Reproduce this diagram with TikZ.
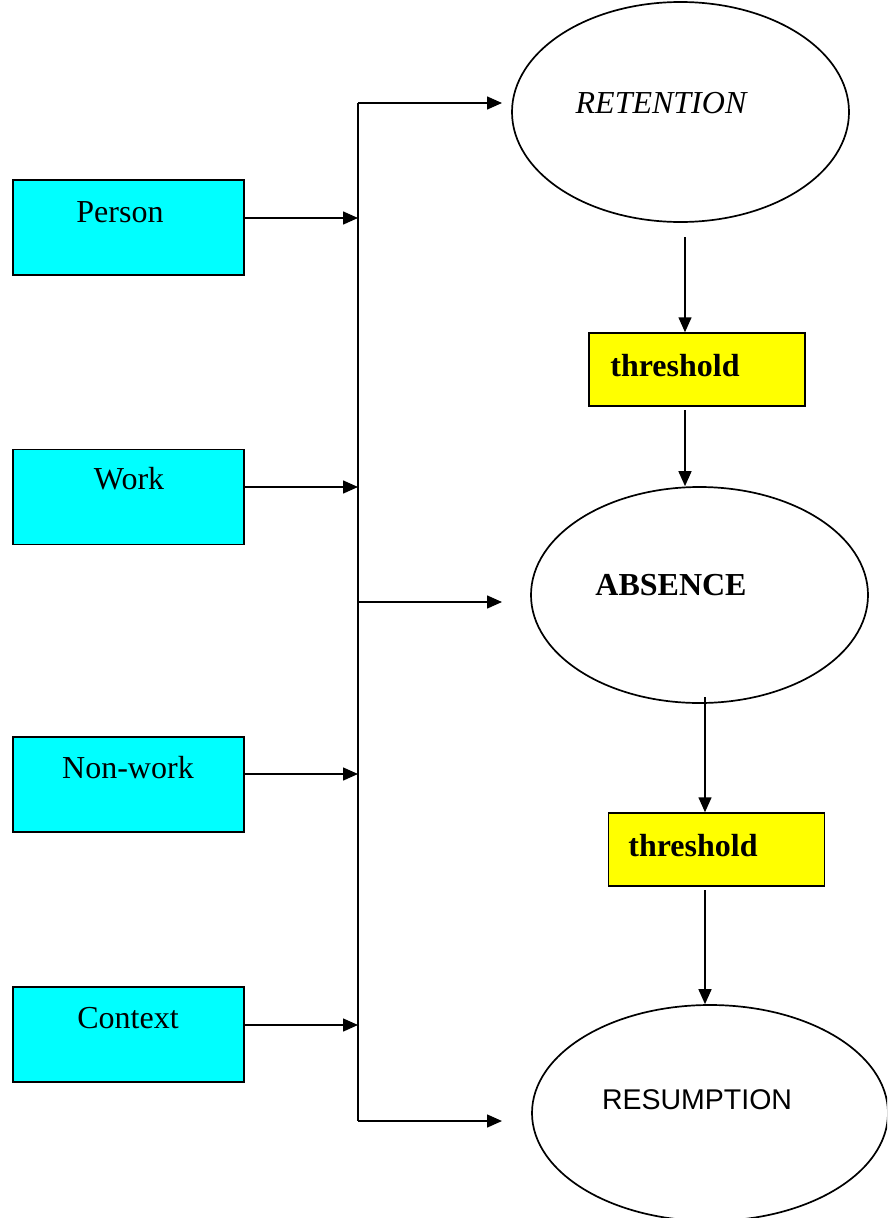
\documentclass[tikz,border=0pt]{standalone}
\usepackage{fontspec}
\setmainfont{Liberation Serif}
\newfontfamily\arialf{Liberation Sans}
\usetikzlibrary{arrows.meta,shapes.geometric}
\definecolor{boxcyan}{RGB}{0,255,255}
\definecolor{boxyellow}{RGB}{255,255,0}
\begin{document}
\begin{tikzpicture}[x=1pt,y=-1pt,
 arr/.style={-{Triangle[length=15pt,width=13pt]}, line width=1.5pt},
 trunk/.style={line width=1.5pt},
 factor/.style={draw, line width=1.5pt, fill=boxcyan, minimum width=231pt, minimum height=95pt, inner sep=0pt},
 thr/.style={draw, line width=1.5pt, fill=boxyellow, minimum width=216pt, minimum height=73pt, inner sep=0pt},
 state/.style={draw, ellipse, line width=1.7pt, inner sep=0pt},
 txt/.style={font=\fontsize{32}{38}\selectfont, inner sep=0pt, anchor=base}
]
\useasboundingbox (0,0) rectangle (887,1218);
\clip (0,0) rectangle (887,1218);

% factor boxes
\node[factor] (person) at (128.5,227.5) {};
\node[factor] (work) at (128.5,497) {};
\node[factor] (nonwork) at (128.5,784.5) {};
\node[factor] (context) at (128.5,1034.5) {};
\node[txt] (person-t) at (120,222) {Person};
\node[txt] (work-t) at (129,489) {Work};
\node[txt] (nonwork-t) at (128,778) {Non-work};
\node[txt] (context-t) at (128,1028) {Context};

% states
\node[state, minimum width=337pt, minimum height=220pt] (ret) at (680.5,112) {};
\node[state, minimum width=337pt, minimum height=216pt] (abs) at (699.5,595) {};
\node[state, minimum width=356pt, minimum height=216pt] (res) at (710,1113) {};
\node[txt] (ret-t) at (661,113) {\itshape RETENTION};
\node[txt] (abs-t) at (671,595) {\bfseries ABSENCE};
\node[txt, font=\fontsize{28.5}{34}\selectfont\arialf] (res-t) at (697,1109) {RESUMPTION};

% thresholds
\node[thr] (th1) at (697,369.5) {};
\node[thr] (th2) at (716.5,849.5) {};
\node[txt] (th1-t) at (675,376) {\bfseries threshold};
\node[txt] (th2-t) at (693,856) {\bfseries threshold};

% trunk
\coordinate (ttop) at (358,103);
\coordinate (tbot) at (358,1121);
\coordinate (tmid) at (358,602);
\draw[trunk] (ttop) -- (tbot);

\coordinate (j1) at (358,218);
\coordinate (j2) at (358,487);
\coordinate (j3) at (358,774);
\coordinate (j4) at (358,1025);
\draw[arr] (person.east |- j1) -- (j1);
\draw[arr] (work.east |- j2) -- (j2);
\draw[arr] (nonwork.east |- j3) -- (j3);
\draw[arr] (context.east |- j4) -- (j4);

\coordinate (e1) at (502,103);
\coordinate (e2) at (502,602);
\coordinate (e3) at (502,1121);
\draw[arr] (ttop) -- (e1);
\draw[arr] (tmid) -- (e2);
\draw[arr] (tbot) -- (e3);

% vertical flow
\coordinate (v1) at (685,237);
\coordinate (v2) at (685,410);
\coordinate (v3) at (705,697);
\coordinate (v4) at (705,890);
\draw[arr] (v1) -- (th1.north -| v1);
\draw[arr] (v2) -- (abs.north -| v2);
\draw[arr] (v3) -- (th2.north -| v3);
\draw[arr] (v4) -- (res.north -| v4);
\end{tikzpicture}
\end{document}
